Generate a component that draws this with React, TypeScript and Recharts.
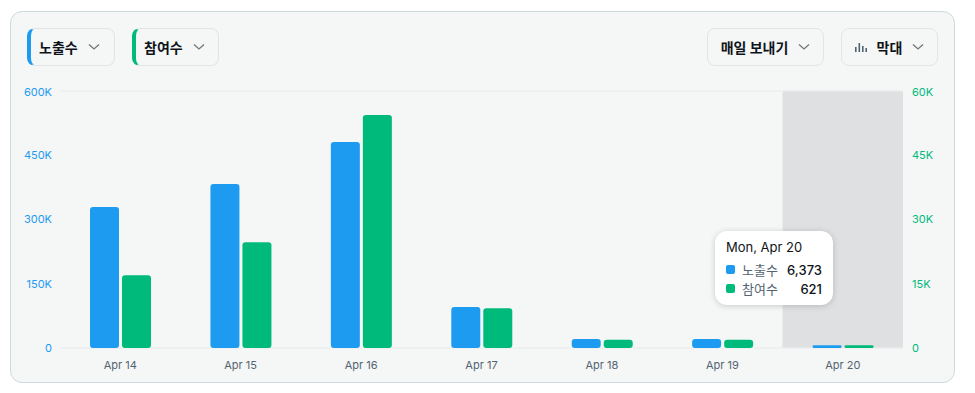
import React from 'react';
import { BarChart, Bar, XAxis, YAxis, Tooltip, CartesianGrid } from 'recharts';

const days = ['Apr 14', 'Apr 15', 'Apr 16', 'Apr 17', 'Apr 18', 'Apr 19', 'Apr 20'];
const fullDays = ['Tue, Apr 14', 'Wed, Apr 15', 'Thu, Apr 16', 'Fri, Apr 17', 'Sat, Apr 18', 'Sun, Apr 19', 'Mon, Apr 20'];
const impressions = [329000, 383000, 481000, 96000, 21000, 21000, 6373];
const engagements = [17000, 24700, 54400, 9300, 1900, 1900, 621];
const leftTicks = [0, 150000, 300000, 450000, 600000];
const rightTicks = [0, 15000, 30000, 45000, 60000];

const BLUE = '#1d9bf0';
const GREEN = '#00ba7c';
const FONT = "Inter, 'Noto Sans CJK KR', 'Noto Sans', sans-serif";

const data = days.map((d, i) => ({
  day: d,
  full: fullDays[i],
  impressions: impressions[i],
  engagements: engagements[i],
}));

const fmtK = (v: number) => (v === 0 ? '0' : `${v / 1000}K`);

const Chevron = () => (
  <svg width="12" height="8" viewBox="0 0 12 8" style={{ marginLeft: 10 }}>
    <path d="M1 1.5 L6 6 L11 1.5" fill="none" stroke="#71767b" strokeWidth="1.3" />
  </svg>
);

const Pill: React.FC<{ left: number; width: number; accent?: string; children: React.ReactNode }> = ({
  left,
  width,
  accent,
  children,
}) => (
  <div
    style={{
      position: 'absolute',
      left,
      top: 16,
      width,
      height: 38,
      boxSizing: 'border-box',
      border: '1px solid #e1e5e8',
      borderLeft: accent ? `4px solid ${accent}` : '1px solid #e1e5e8',
      borderRadius: 8,
      display: 'flex',
      alignItems: 'center',
      justifyContent: accent ? 'flex-start' : 'center',
      paddingLeft: accent ? 8 : 0,
      fontWeight: 700,
      fontSize: 14,
      color: '#0f1419',
    }}
  >
    {children}
  </div>
);

const TipBox = ({ active, payload }: any) => {
  if (!active || !payload || !payload.length) return null;
  const row = payload[0].payload;
  return (
    <div
      style={{
        background: '#fff',
        borderRadius: 12,
        boxShadow: '0 1px 6px rgba(0,0,0,0.18)',
        padding: '8px 11px 7px 11px',
        fontFamily: FONT,
        fontSize: 13,
        color: '#0f1419',
        width: 96,
      }}
    >
      <div style={{ marginBottom: 5 }}>{row.full}</div>
      {[
        { name: '노출수', value: row.impressions, color: BLUE },
        { name: '참여수', value: row.engagements, color: GREEN },
      ].map((r) => (
        <div key={r.name} style={{ display: 'flex', alignItems: 'center', height: 19 }}>
          <span style={{ width: 9, height: 9, background: r.color, borderRadius: 2, marginRight: 7 }} />
          <span style={{ color: '#536471' }}>{r.name}</span>
          <span style={{ marginLeft: 'auto', fontWeight: 500 }}>{r.value.toLocaleString('en-US')}</span>
        </div>
      ))}
    </div>
  );
};

export default function App() {
  return (
    <div
      style={{
        position: 'relative',
        marginLeft: 2,
        marginTop: 3,
        width: 945,
        height: 372,
        boxSizing: 'border-box',
        border: '1px solid #cfd9de',
        borderRadius: 12,
        background: '#f5f6f6',
        fontFamily: FONT,
      }}
    >
      <Pill left={16} width={88} accent={BLUE}>
        노출수
        <Chevron />
      </Pill>
      <Pill left={121} width={87} accent={GREEN}>
        참여수
        <Chevron />
      </Pill>
      <Pill left={696} width={117}>
        매일 보내기
        <Chevron />
      </Pill>
      <Pill left={830} width={97}>
        <svg width="12" height="10" viewBox="0 0 12 10" style={{ marginRight: 10 }}>
          <rect x="0" y="5" width="1.6" height="5" fill="#536471" />
          <rect x="3.5" y="1" width="1.6" height="9" fill="#536471" />
          <rect x="7" y="4" width="1.6" height="6" fill="#536471" />
          <rect x="10.4" y="6" width="1.6" height="4" fill="#536471" />
        </svg>
        막대
        <Chevron />
      </Pill>
      <div style={{ position: 'absolute', left: -1, top: 74 }}>
        <BarChart
          width={945}
          height={300}
          data={data}
          margin={{ top: 5, right: 12, left: 0, bottom: 8 }}
          barSize={29}
          barGap={3}
        >
          <CartesianGrid vertical={false} stroke="#e8ebec" />
          <XAxis
            dataKey="day"
            axisLine={false}
            tickLine={false}
            tickSize={0}
            tickMargin={13}
            height={30}
            tick={{ fill: '#536471', fontSize: 11, fontFamily: FONT }}
          />
          <YAxis
            yAxisId="left"
            orientation="left"
            width={50}
            domain={[0, 600000]}
            ticks={leftTicks}
            tickFormatter={fmtK}
            axisLine={false}
            tickLine={false}
            tickSize={0}
            tickMargin={8}
            tick={{ fill: BLUE, fontSize: 11, fontFamily: FONT }}
          />
          <YAxis
            yAxisId="right"
            orientation="right"
            width={40}
            domain={[0, 60000]}
            ticks={rightTicks}
            tickFormatter={fmtK}
            axisLine={false}
            tickLine={false}
            tickSize={0}
            tickMargin={9}
            tick={{ fill: GREEN, fontSize: 11, fontFamily: FONT, textAnchor: 'start' }}
          />
          <Tooltip
            content={<TipBox />}
            defaultIndex={6}
            active
            cursor={{ fill: '#dfe0e2' }}
            position={{ x: 705, y: 145 }}
            isAnimationActive={false}
          />
          <Bar yAxisId="left" dataKey="impressions" name="노출수" fill={BLUE} radius={3} isAnimationActive={false} />
          <Bar yAxisId="right" dataKey="engagements" name="참여수" fill={GREEN} radius={3} isAnimationActive={false} />
        </BarChart>
      </div>
    </div>
  );
}
